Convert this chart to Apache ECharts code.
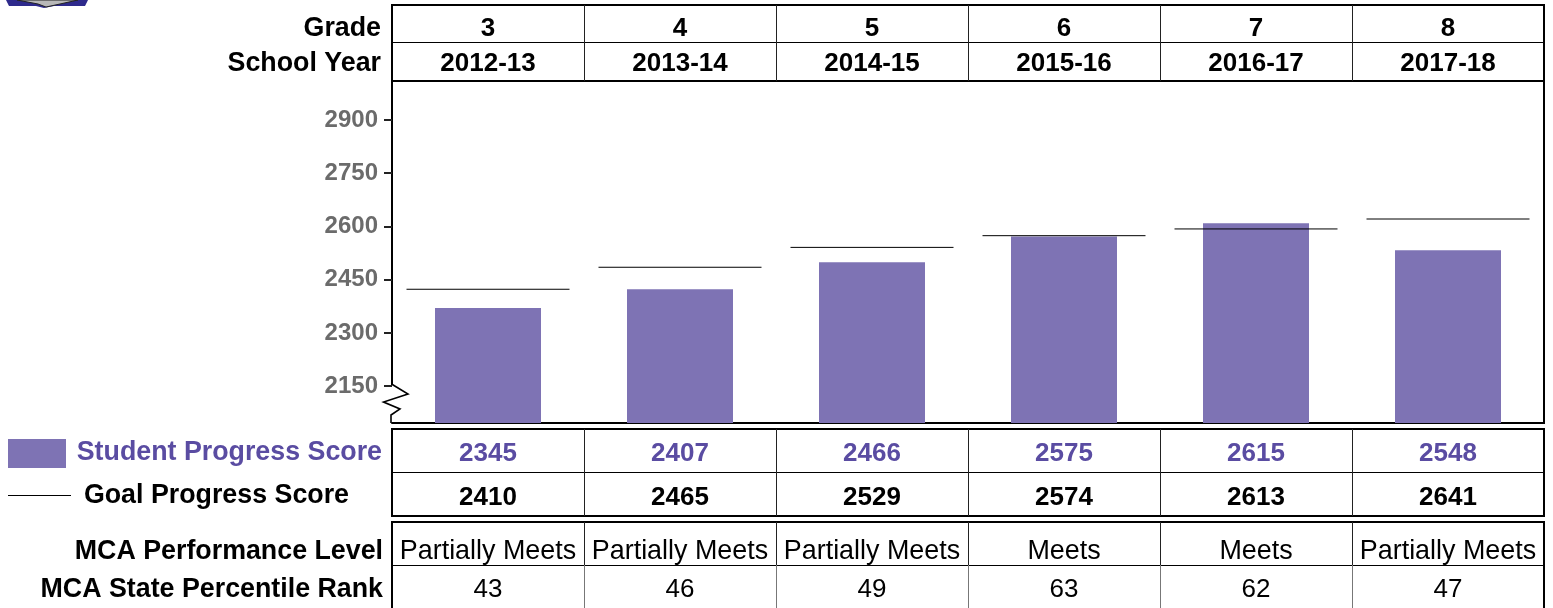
<!DOCTYPE html>
<html><head><meta charset="utf-8">
<style>html,body{margin:0;padding:0;background:#fff}#c{width:1553px;height:608px}</style>
<script src="https://cdn.jsdelivr.net/npm/echarts@6/dist/echarts.min.js"></script>
</head><body><div id="c"></div>
<script>
// Data
const grades = ['3','4','5','6','7','8'];
const schoolYears = ['2012-13','2013-14','2014-15','2015-16','2016-17','2017-18'];
// heights as read against the drawn axis
const plottedStudent = [2370,2423,2499,2572,2609,2533];
const plottedGoal = [2423,2485,2541,2574,2593,2621];
// values as printed in the table
const studentScores = ['2345','2407','2466','2575','2615','2548'];
const goalScores = ['2410','2465','2529','2574','2613','2641'];
const performance = ['Partially Meets','Partially Meets','Partially Meets','Meets','Meets','Partially Meets'];
const percentile = ['43','46','49','63','62','47'];
const axisTicks = [2150,2300,2450,2600,2750,2900];

const FONT = '"Liberation Sans", Arial, sans-serif';
const PURPLE = '#5A4CA2', BAR = '#7E73B4', L = 392, R = 1544, TOP = 81, BOT = 423;

const chart = echarts.init(document.getElementById('c'), null, {renderer:'canvas'});
chart.setOption({
  animation:false,
  grid:{left:L,right:1553-R,top:TOP,bottom:608-BOT,containLabel:false},
  xAxis:{type:'category',data:grades,axisLabel:{show:false},axisTick:{show:false},
    axisLine:{show:true,onZero:false,lineStyle:{color:'#000',width:2}}},
  yAxis:{type:'value',min:2046,max:3010,splitLine:{show:false},
    axisLine:{show:false},
    axisTick:{show:true,length:8,customValues:axisTicks,lineStyle:{color:'#222',width:2}},
    axisLabel:{customValues:axisTicks,margin:14,color:'#6B6B6B',fontFamily:FONT,fontWeight:'bold',fontSize:24,
      padding:[3,0,0,0],formatter:v=>String(v)}},
  series:[
    {type:'bar',data:plottedStudent,barWidth:106,itemStyle:{color:BAR},silent:true},
    {type:'custom',silent:true,z:5,data:plottedGoal.map((v,i)=>[i,v]),encode:{x:0,y:1},
     renderItem:(p,api)=>{
       const c=api.coord([api.value(0),api.value(1)]);
       return {type:'line',shape:{x1:c[0]-81.5,y1:c[1],x2:c[0]+81.5,y2:c[1]},style:{stroke:'#000',lineWidth:1}};
     }}
  ]
});

const cx = i => chart.convertToPixel({xAxisIndex:0},i);
const g = [];
const hline=(x1,x2,y,w)=>g.push({type:'line',shape:{x1,y1:y,x2,y2:y},style:{stroke:'#000',lineWidth:w}});
const vline=(x,y1,y2,w,c)=>g.push({type:'line',shape:{x1:x,y1,x2:x,y2},style:{stroke:c||'#000',lineWidth:w}});
const text=(t,x,y,align,o)=>g.push({type:'text',x,y,z:10,style:Object.assign({text:t,align,verticalAlign:'middle',
  font:'bold 26px '+FONT,fill:'#000'},o||{})});
const LABEL='bold 26.8px '+FONT;

// frames
hline(391,1545,5,2); hline(392,1544,42.5,1); hline(391,1545,81,2);
hline(391,1545,429,2); hline(392,1544,472.5,1); hline(391,1545,516,2);
hline(391,1545,522,2); hline(392,1544,565.5,1);
vline(392,4,81,2); vline(1544,4,81,2);
vline(392,81,385,2); vline(1544,81,424,2);
vline(392,428,517,2); vline(1544,428,517,2);
vline(392,521,608,2); vline(1544,521,608,2);
[584,776,968,1160,1352].forEach(x=>{
  vline(x+.5,5,81,1,'#222'); vline(x+.5,429,516,1,'#222');
  vline(x+.5,522,565,1,'#222'); vline(x+.5,565,608,1,'#777');
});
// axis break
g.push({type:'polyline',shape:{points:[[391.5,384],[408,394],[383.5,402],[400,409],[391,415],[391,423]]},
  style:{stroke:'#000',lineWidth:1.6,fill:null},z:6});

// row labels
text('Grade',381,29,'right',{font:LABEL});
text('School Year',381,64,'right',{font:LABEL});
text('Student Progress Score',382,453,'right',{fill:PURPLE,font:LABEL});
text('Goal Progress Score',349,496,'right',{font:LABEL});
text('MCA Performance Level',383,552,'right',{font:LABEL});
text('MCA State Percentile Rank',383,590,'right',{font:LABEL});
// legend
g.push({type:'rect',shape:{x:8,y:439,width:58,height:29},style:{fill:BAR}});
hline(8,71,495.5,1);

// cells
grades.forEach((_,i)=>{
  const x=cx(i);
  text(grades[i],x,29,'center');
  text(schoolYears[i],x,64,'center');
  text(studentScores[i],x,454,'center',{fill:PURPLE});
  text(goalScores[i],x,498,'center');
  text(performance[i],x,552,'center',{font:'26.9px '+FONT});
  text(percentile[i],x,590,'center',{font:'26px '+FONT});
});

// logo fragment clipped by the page top
g.push({type:'polygon',shape:{points:[[6,0],[88,0],[85,6],[54,6],[44,8],[36,6],[9,6]]},style:{fill:'#2E2A8C'}});
g.push({type:'polygon',shape:{points:[[17,0],[78,0],[60,4],[46,7],[38,4]]},style:{fill:'#B8B8B8',stroke:'#222',lineWidth:1}});

chart.setOption({graphic:{elements:g}});
</script></body></html>
